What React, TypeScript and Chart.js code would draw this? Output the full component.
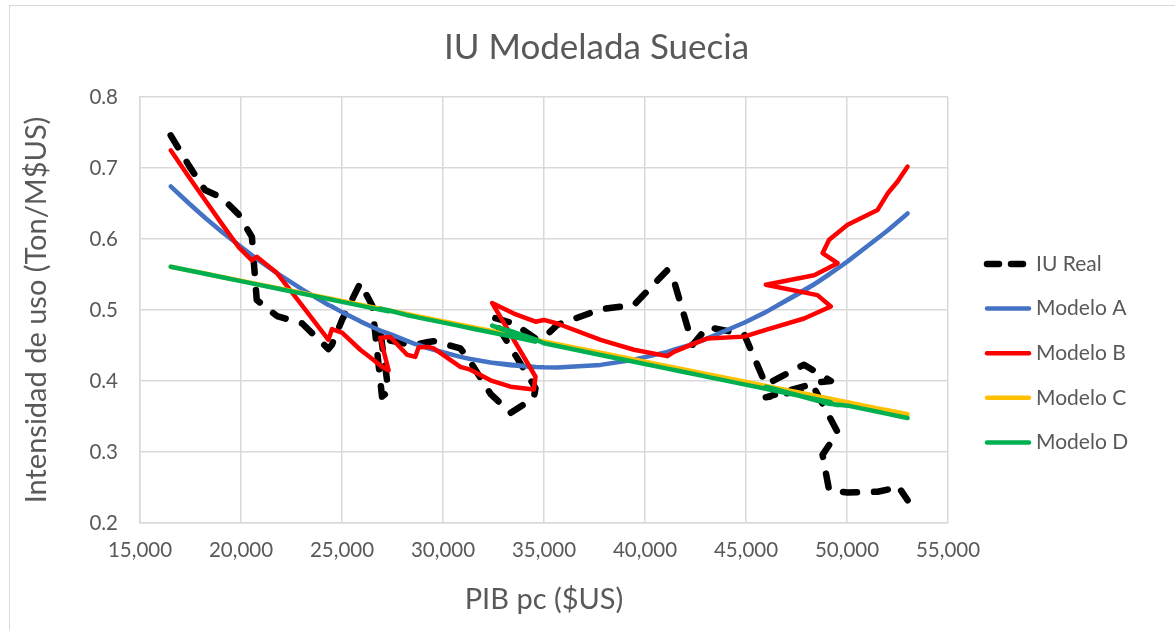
import { useEffect, useRef } from 'react';
import { Chart, registerables } from 'chart.js';

Chart.register(...registerables);

// PIB per cápita (US$), in time order (path order of the series)
const pibPc = [
  16520, 17430, 18220, 19060, 19870, 20540, 20780, 21780, 23030, 24330,
  24500, 25000, 25905, 26500, 26980, 27307, 26896, 27390, 28220, 28630,
  28795, 29275, 29540, 30860, 31355, 32350, 33340, 34495, 34580, 32430,
  33505, 34580, 34990, 35655, 37800, 39450, 41105, 41435, 42360, 43090,
  44905, 45980, 47875, 49200, 48540, 45980, 48375, 49535, 48790, 49115,
  50030, 51515, 52010, 52505, 53000,
];

const iuReal = [
  0.746, 0.703, 0.669, 0.658, 0.635, 0.603, 0.514, 0.4915, 0.481, 0.445,
  0.451, 0.486, 0.538, 0.506, 0.378, 0.385, 0.47, 0.457, 0.452, 0.45,
  0.452, 0.455, 0.456, 0.446, 0.427, 0.382, 0.355, 0.376, 0.39, 0.49,
  0.481, 0.46, 0.461, 0.479, 0.501, 0.507, 0.556, 0.541, 0.451, 0.476,
  0.466, 0.395, 0.423, 0.4, 0.398, 0.377, 0.39, 0.328, 0.296, 0.246,
  0.243, 0.244, 0.247, 0.253, 0.232,
];

const modeloA = [
  0.674, 0.65, 0.63, 0.61, 0.592, 0.577, 0.572, 0.552, 0.529, 0.507,
  0.505, 0.497, 0.484, 0.476, 0.47, 0.4665, 0.471, 0.466, 0.4565, 0.452,
  0.451, 0.446, 0.444, 0.434, 0.431, 0.426, 0.422, 0.4197, 0.4196, 0.4257,
  0.4218, 0.4196, 0.4192, 0.419, 0.4227, 0.43, 0.441, 0.444, 0.452, 0.46,
  0.482, 0.497, 0.527, 0.552, 0.539, 0.497, 0.536, 0.5585, 0.544, 0.55,
  0.5685, 0.601, 0.612, 0.624, 0.636,
];

const modeloB = [
  0.725, 0.687, 0.655, 0.621, 0.589, 0.57, 0.575, 0.552, 0.506, 0.458,
  0.473, 0.468, 0.444, 0.431, 0.42, 0.415, 0.461, 0.462, 0.437, 0.434,
  0.4475, 0.448, 0.446, 0.42, 0.416, 0.401, 0.392, 0.388, 0.406, 0.51,
  0.495, 0.4835, 0.486, 0.481, 0.458, 0.444, 0.435, 0.441, 0.452, 0.46,
  0.4625, 0.472, 0.488, 0.505, 0.521, 0.5355, 0.549, 0.566, 0.58, 0.599,
  0.62, 0.641, 0.664, 0.681, 0.702,
];

const modeloC = [
  0.561, 0.5558, 0.5513, 0.5465, 0.5419, 0.5381, 0.5367, 0.531, 0.5239, 0.5165,
  0.5155, 0.5127, 0.5075, 0.5041, 0.5014, 0.4995, 0.5019, 0.499, 0.4943, 0.492,
  0.491, 0.4883, 0.4868, 0.4793, 0.4764, 0.4708, 0.4651, 0.4585, 0.4581, 0.4703,
  0.4642, 0.4581, 0.4557, 0.4519, 0.4397, 0.4303, 0.4209, 0.419, 0.4137, 0.4096,
  0.3992, 0.3931, 0.3823, 0.3747, 0.3785, 0.3931, 0.3794, 0.3728, 0.3771, 0.3752,
  0.37, 0.3615, 0.3587, 0.3559, 0.3531,
];

const modeloD = [
  0.561, 0.5557, 0.5511, 0.5462, 0.5414, 0.5375, 0.5361, 0.5303, 0.523, 0.5154,
  0.5144, 0.5115, 0.5062, 0.5027, 0.4999, 0.498, 0.502, 0.499, 0.4927, 0.4903,
  0.4893, 0.4865, 0.485, 0.4773, 0.4744, 0.4686, 0.4628, 0.456, 0.4555, 0.478,
  0.469, 0.4585, 0.4531, 0.4493, 0.4367, 0.4271, 0.4174, 0.4155, 0.4101, 0.4058,
  0.3952, 0.389, 0.3779, 0.3701, 0.372, 0.392, 0.374, 0.366, 0.37, 0.368,
  0.3653, 0.3566, 0.3537, 0.3508, 0.348,
];

const seriesNames = ['IU Real', 'Modelo A', 'Modelo B', 'Modelo C', 'Modelo D'];
const seriesColors = ['#000000', '#4472c4', '#ff0000', '#ffc000', '#00b050'];

const xMin = 15000;
const xMax = 55000;
const xStep = 5000;
const yMin = 0.2;
const yMax = 0.8;
const yStep = 0.1;

const chartTitle = 'IU Modelada Suecia';
const xTitle = 'PIB pc ($US)';
const yTitle = 'Intensidad de uso (Ton/M$US)';

const FONT = 'Lato, "Open Sans", "DejaVu Sans", sans-serif';
const TEXT = '#595959';
const GRID = '#d9d9d9';

export default function App() {
  const ref = useRef<HTMLCanvasElement>(null);

  useEffect(() => {
    if (!ref.current) return;
    const pts = (ys: number[]) => pibPc.map((x, i) => ({ x, y: ys[i] }));
    const values = [iuReal, modeloA, modeloB, modeloC, modeloD];

    const framePlugin = {
      id: 'frame',
      beforeDraw(chart: any) {
        const { ctx, width, height } = chart;
        ctx.save();
        ctx.fillStyle = '#ffffff';
        ctx.fillRect(0, 0, width, height);
        ctx.strokeStyle = GRID;
        ctx.lineWidth = 1;
        ctx.strokeRect(9.5, 5.5, width + 20, height + 20);
        ctx.restore();
      },
    };

    const legendPlugin = {
      id: 'sideLegend',
      afterDraw(chart: any) {
        const { ctx, chartArea } = chart;
        const x0 = chartArea.right + 39;
        const lineLen = 42;
        const yStart = 264;
        const gap = 44.6;
        ctx.save();
        chart.data.datasets.forEach((ds: any, i: number) => {
          const y = yStart + gap * i;
          ctx.beginPath();
          ctx.strokeStyle = ds.borderColor;
          ctx.lineWidth = ds.borderWidth;
          ctx.lineCap = ds.borderCapStyle || 'butt';
          ctx.setLineDash(ds.borderDash && ds.borderDash.length ? [12, 12] : []);
          ctx.moveTo(x0, y);
          ctx.lineTo(x0 + lineLen, y);
          ctx.stroke();
          ctx.setLineDash([]);
          ctx.fillStyle = TEXT;
          ctx.font = `21px ${FONT}`;
          ctx.textBaseline = 'middle';
          ctx.textAlign = 'left';
          ctx.fillText(ds.label, x0 + lineLen + 7, y);
        });
        ctx.restore();
      },
    };

    const datasets = seriesNames.map((name, i) => ({
      label: name,
      data: pts(values[i]),
      showLine: true,
      borderColor: seriesColors[i],
      backgroundColor: seriesColors[i],
      borderWidth: i === 0 ? 6.5 : 4.5,
      borderDash: i === 0 ? [14, 17] : [],
      borderCapStyle: 'round',
      borderJoinStyle: 'round',
      pointRadius: 0,
      pointHoverRadius: 0,
      tension: 0,
      fill: false,
      order: 5 - i,
    }));

    const chart = new Chart(ref.current, {
      type: 'scatter',
      data: { datasets } as any,
      options: {
        animation: false,
        responsive: false,
        maintainAspectRatio: false,
        events: [],
        layout: { padding: { left: 18, right: 0, top: 0, bottom: 0 } },
        plugins: {
          legend: { display: false },
          tooltip: { enabled: false },
          title: {
            display: true,
            text: chartTitle,
            color: TEXT,
            font: { family: FONT, size: 35, weight: 'normal' },
            padding: { top: 27, bottom: 28 },
          },
        },
        scales: {
          x: {
            type: 'linear',
            min: xMin,
            max: xMax,
            ticks: {
              stepSize: xStep,
              autoSkip: false,
              maxRotation: 0,
              color: TEXT,
              font: { family: FONT, size: 20.5 },
              padding: 15,
              callback: (v: any) => Number(v).toLocaleString('en-US'),
            },
            grid: { color: GRID, lineWidth: 1.5, drawTicks: false },
            border: { color: GRID, width: 1.5 },
            title: {
              display: true,
              text: xTitle,
              color: TEXT,
              font: { family: FONT, size: 29 },
              padding: { top: 0, bottom: 13 },
            },
            afterFit: (s: any) => { s.height = 107; },
          },
          y: {
            type: 'linear',
            min: yMin,
            max: yMax,
            ticks: {
              stepSize: yStep,
              color: TEXT,
              font: { family: FONT, size: 20.5 },
              padding: 22,
              callback: (v: any) => Number(v).toFixed(1),
            },
            grid: { color: GRID, lineWidth: 1.5, drawTicks: false },
            border: { color: GRID, width: 1.5 },
            title: {
              display: true,
              text: yTitle,
              color: TEXT,
              font: { family: FONT, size: 29 },
              padding: { top: 1, bottom: 0 },
            },
            afterFit: (s: any) => { s.width = 122; },
          },
          yR: {
            type: 'linear',
            position: 'right',
            display: true,
            grid: { display: false, drawTicks: false },
            border: { display: false },
            ticks: { display: false },
            afterFit: (s: any) => { s.width = 227; },
          },
        },
      } as any,
      plugins: [framePlugin, legendPlugin],
    });
    return () => chart.destroy();
  }, []);

  return (
    <div style={{ position: 'fixed', left: 0, top: 0, width: 1175, height: 630, overflow: 'hidden', background: '#fff' }}>
      <canvas ref={ref} width={1175} height={630} style={{ display: 'block', width: 1175, height: 630 }} />
    </div>
  );
}
